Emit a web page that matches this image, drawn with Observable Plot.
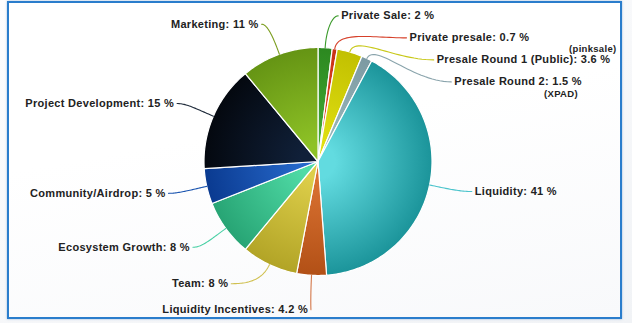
<!DOCTYPE html>
<html><head><meta charset="utf-8">
<script src="https://cdn.jsdelivr.net/npm/d3@7"></script>
<script src="https://cdn.jsdelivr.net/npm/@observablehq/plot@0.6"></script>
<style>
html,body{margin:0;padding:0;background:#fff;}
#wrap{position:relative;width:632px;height:323px;overflow:hidden;background:linear-gradient(160deg,#fdfdfe,#f1f3f6);}
#frame{position:absolute;left:7px;top:1px;width:611px;height:314px;border:2.5px solid #2a7dcc;background:linear-gradient(170deg,#ffffff 40%,#f8f9fb);box-shadow:0 0 2px rgba(60,120,190,0.5);}
#chart{position:absolute;left:0;top:0;}
#chart text{letter-spacing:0.3px;}
</style></head>
<body><div id="wrap"><div id="frame"></div><div id="chart"></div></div>
<script>
// ---- data ----
const categories = ["Private Sale","Private presale","Presale Round 1 (Public)","Presale Round 2","Liquidity","Liquidity Incentives","Team","Ecosystem Growth","Community/Airdrop","Project Development","Marketing"];
const shares = [2, 0.7, 3.6, 1.5, 41, 4.2, 8, 8, 5, 15, 11];
const shareText = ["2","0.7","3.6","1.5","41","4.2","8","8","5","15","11"];
const notes = ["","","(pinksale)","(XPAD)","","","","","","",""];
// ---- styles ----
const lightColors = ["#44aa34","#ea4a24","#e0df12","#9cb9bd","#62dbe0","#da7232","#ddce4a","#50dba6","#2668ca","#102039","#8ec226"];
const darkColors  = ["#2c8820","#c83216","#c2c000","#7c9aa2","#1b949a","#b25016","#b2a426","#27a474","#0a3a90","#04080f","#659414"];
const lineColors  = ["#3a9a2a","#d6402a","#c8c818","#8aa4ac","#4cc4cc","#d4784a","#d0c050","#48d0a4","#1c56b0","#1e2a3a","#7c9e20"];

// ---- layout ----
const W = 632, H = 323, cx = 317.5, cy = 161, R = 114;
const ringR = 1.28, vTop = -1.28, vBottom = 1.30;
const gapBySide = {"1": 22 / R, "-1": 26 / R};
const textOffBySide = {"1": 14 / R, "-1": 10 / R};

const arcs = d3.pie().sort(null).value(d => d)(shares);

// slice polygons (unit coords: centre 0, radius 1, y downward)
const slicePts = [];
arcs.forEach((a, i) => {
  slicePts.push({i, x: 0, y: 0, grad: `url(#g${i})`});
  const n = Math.max(2, Math.ceil((a.endAngle - a.startAngle) / (Math.PI / 180)));
  for (let k = 0; k <= n; k++) {
    const t = a.startAngle + (a.endAngle - a.startAngle) * k / n;
    slicePts.push({i, x: Math.sin(t), y: -Math.cos(t), grad: `url(#g${i})`});
  }
  slicePts.push({i, x: 0, y: 0, grad: `url(#g${i})`});
});

// label layout
const items = arcs.map((a, i) => {
  const mid = (a.startAngle + a.endAngle) / 2;
  return {i, mid, side: Math.sin(mid) >= 0 ? 1 : -1, v: -Math.cos(mid) * ringR};
});
for (const side of [1, -1]) {
  const gap = gapBySide[side];
  const s = items.filter(d => d.side === side).sort((a, b) => a.v - b.v);
  s[0].v = Math.max(s[0].v, vTop);
  for (let k = 1; k < s.length; k++) if (s[k].v < s[k-1].v + gap) s[k].v = s[k-1].v + gap;
  if (s[s.length-1].v > vBottom) {
    s[s.length-1].v = vBottom;
    for (let k = s.length - 2; k >= 0; k--) s[k].v = Math.min(s[k].v, s[k+1].v - gap);
  }
}
const ctx = document.createElement("canvas").getContext("2d");
ctx.font = "bold 11px 'Liberation Sans'";
const labels = items.map(d => {
  const xc = d.side * Math.sqrt(Math.max(0, ringR * ringR - d.v * d.v));
  const text = `${categories[d.i]}: ${shareText[d.i]} %`;
  const w = (ctx.measureText(text).width + 0.3 * text.length) / R;
  const off = textOffBySide[d.side];
  return {...d, text, tx: xc + d.side * off, ex: xc + d.side * (off - 3 / R), w, color: lineColors[d.i]};
});

// connectors (cubic bezier samples)
const connPts = [];
labels.forEach(l => {
  const p0 = [Math.sin(l.mid), -Math.cos(l.mid)];
  const c1 = [Math.sin(l.mid) * 1.16, -Math.cos(l.mid) * 1.16];
  const p3 = [l.ex, l.v];
  const c2 = [p3[0] - 0.5 * (p3[0] - c1[0]), l.v];
  for (let k = 0; k <= 30; k++) {
    const t = k / 30, u = 1 - t;
    connPts.push({i: l.i, color: l.color,
      x: u*u*u*p0[0] + 3*u*u*t*c1[0] + 3*u*t*t*c2[0] + t*t*t*p3[0],
      y: u*u*u*p0[1] + 3*u*u*t*c1[1] + 3*u*t*t*c2[1] + t*t*t*p3[1]});
  }
});

// notes next to labels
const noteRows = labels.filter(l => notes[l.i]).map((l, k) => ({
  text: notes[l.i],
  x: l.tx + l.w + (k === 0 ? 6 : -4) / R,
  y: l.v + (k === 0 ? -11 : 12) / R
}));

const defsMark = (index, scales) => {
  const px = scales && scales.x ? scales.x(0) : cx;
  const py = scales && scales.y ? scales.y(0) : cy;
  const pr = scales && scales.x ? scales.x(1) - scales.x(0) : R;
  const defs = d3.create("svg:defs");
  categories.forEach((c, i) => {
    const g = defs.append("radialGradient").attr("id", `g${i}`)
      .attr("gradientUnits", "userSpaceOnUse")
      .attr("cx", px).attr("cy", py).attr("r", pr);
    g.append("stop").attr("offset", "0.15").attr("stop-color", lightColors[i]);
    g.append("stop").attr("offset", "1").attr("stop-color", darkColors[i]);
  });
  return defs.node();
};

const textStyle = {fontSize: 11, fontWeight: "bold", fill: "#222", fontFamily: "'Liberation Sans', Arial, sans-serif", lineAnchor: "middle"};

const chart = Plot.plot({
  width: W, height: H, margin: 0,
  style: {background: "transparent", overflow: "visible"},
  x: {domain: [-cx / R, (W - cx) / R], range: [0, W], axis: null},
  y: {domain: [-cy / R, (H - cy) / R], range: [0, H], axis: null},
  color: {type: "identity"},
  marks: [
    defsMark,
    Plot.line(slicePts, {x: "x", y: "y", z: "i", fill: "grad", stroke: "#ffffff", strokeWidth: 1.2, strokeLinejoin: "round"}),
    Plot.line(connPts, {x: "x", y: "y", z: "i", stroke: "color", strokeWidth: 1.1}),
    Plot.text(labels.filter(l => l.side > 0), {x: "tx", y: "v", text: "text", textAnchor: "start", ...textStyle}),
    Plot.text(labels.filter(l => l.side < 0), {x: "tx", y: "v", text: "text", textAnchor: "end", ...textStyle}),
    Plot.text(noteRows, {x: "x", y: "y", text: "text", textAnchor: "end", ...textStyle, fontSize: 9.5})
  ]
});
document.getElementById("chart").appendChild(chart);
</script>
</body></html>
